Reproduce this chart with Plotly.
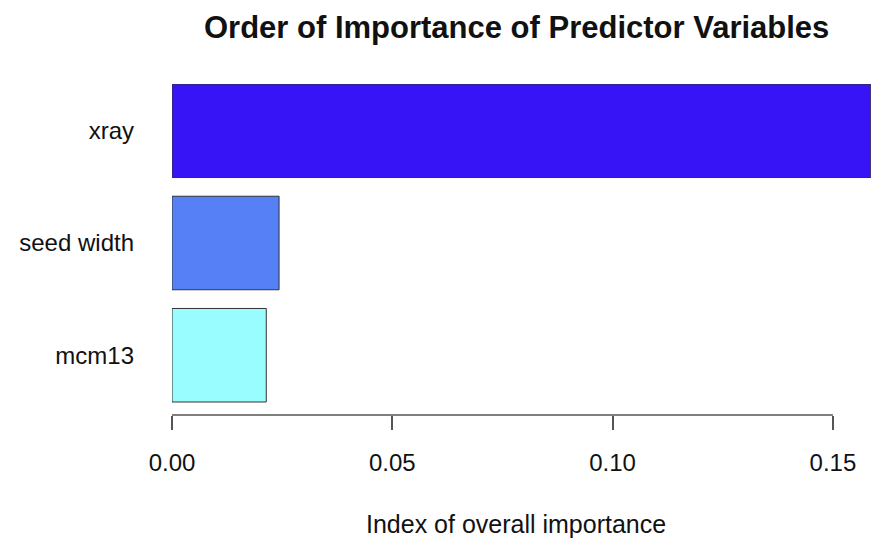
import plotly.graph_objs as go

# variable importance, bottom to top as drawn
variables = ['mcm13', 'seed width', 'xray']
importance = [0.0214, 0.0243, 0.1586]
bar_colors = ['#99FCFF', '#5680F5', '#3614F5']

tick_vals = [0.0, 0.05, 0.10, 0.15]
tick_text = ['0.00', '0.05', '0.10', '0.15']

FONT = 'Liberation Sans, Arial, sans-serif'

data = [
    go.Bar(
        x=importance,
        y=variables,
        orientation='h',
        marker=dict(color=bar_colors, line=dict(color='#333333', width=1)),
        hoverinfo='x+y',
    )
]

# page has an 8px body margin, so the figure is drawn 8px smaller
layout = go.Layout(
    width=878,
    height=543,
    margin=dict(l=164, r=15, t=76, b=136),
    paper_bgcolor='white',
    plot_bgcolor='white',
    showlegend=False,
    bargap=0.1667,
    font=dict(family=FONT, size=24, color='#111111'),
    xaxis=dict(
        range=[0, 0.15864],
        tickvals=tick_vals,
        ticktext=tick_text,
        ticks='outside',
        ticklen=14,
        tickwidth=1.5,
        tickcolor='#555555',
        ticklabelstandoff=12,
        showline=False,
        showgrid=False,
        zeroline=False,
    ),
    yaxis=dict(
        type='category',
        range=[-0.5326, 2.4167],
        ticks='',
        ticklabelstandoff=37,
        showline=False,
        showgrid=False,
        zeroline=False,
    ),
    shapes=[
        dict(type='line', xref='x', yref='paper', x0=0, x1=0.15, y0=0, y1=0,
             line=dict(color='#555555', width=1.5)),
    ],
    annotations=[
        dict(text='<b>Order of Importance of Predictor Variables</b>',
             xref='paper', yref='paper', x=0.4928, y=1.172,
             xanchor='center', yanchor='middle', showarrow=False,
             font=dict(family=FONT, size=31, color='#111111')),
        dict(text='Index of overall importance',
             xref='paper', yref='paper', x=0.4928, y=-0.329,
             xanchor='center', yanchor='middle', showarrow=False,
             font=dict(family=FONT, size=25, color='#111111')),
    ],
)

fig = go.Figure(data=data, layout=layout)
fig.write_html('out.html')
